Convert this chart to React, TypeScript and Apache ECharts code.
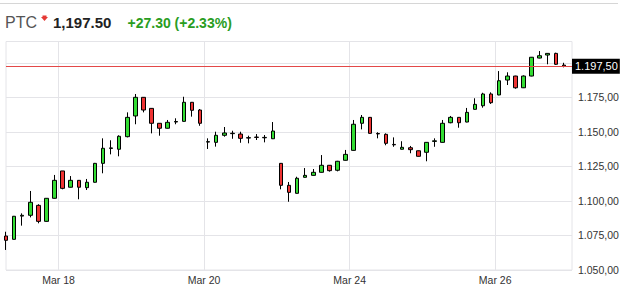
import React, { useEffect, useRef } from 'react';
import * as echarts from 'echarts';

// ---- header values ----
const symbol = 'PTC';
const lastPrice = 1197.5;
const change = 27.3;
const changePct = 2.33;

// ---- x axis: day labels and bar index where each labelled day starts ----
const dayLabels = ['Mar 18', 'Mar 20', 'Mar 24', 'Mar 26'];
const dayStartIndex = [7, 25, 43, 61];

// ---- y axis ----
const yMin = 1050;
const yMax = 1215.4;
const yStep = 25;

// ---- bars (intraday candles) ----
const opens = [
  1074.6, 1072.2, 1089.0, 1089.6, 1096.8, 1085.2, 1101.9,
  1121.7, 1109.9, 1114.9, 1109.6, 1113.5, 1127.2, 1138.0, 1137.4, 1146.5,
  1161.5, 1175.0, 1167.0, 1156.2, 1152.6, 1157.1, 1157.6, 1171.4, 1165.8,
  1142.6, 1142.4, 1147.5, 1148.7, 1148.4, 1145.5, 1146.2, 1145.7, 1145.0,
  1127.2, 1111.3, 1105.5, 1117.1, 1118.5, 1120.7, 1125.8, 1122.2, 1129.4,
  1136.6, 1156.2, 1160.5, 1148.8, 1148.2, 1140.9, 1137.4, 1138.5, 1136.3,
  1135.2, 1143.1, 1142.4, 1156.6, 1160.5, 1157.1, 1166.3, 1168.9, 1177.4,
  1176.7, 1187.5, 1190.4, 1181.9, 1190.4, 1203.4, 1205.6, 1206.8, 1198.3,
];
const closes = [
  1071.5, 1088.9, 1089.6, 1099.0, 1085.2, 1101.9, 1114.9,
  1109.1, 1114.9, 1109.9, 1113.5, 1127.2, 1138.1, 1138.4, 1146.8, 1160.5,
  1175.0, 1165.8, 1156.2, 1152.6, 1156.9, 1157.5, 1171.4, 1165.6, 1156.2,
  1142.9, 1147.5, 1149.2, 1149.0, 1145.3, 1145.8, 1146.0, 1146.0, 1150.6,
  1111.3, 1106.2, 1116.4, 1118.5, 1120.7, 1125.8, 1121.9, 1128.7, 1133.7,
  1155.5, 1160.5, 1148.9, 1148.5, 1141.7, 1140.6, 1138.8, 1137.1, 1132.3,
  1142.4, 1143.5, 1156.2, 1160.5, 1156.6, 1164.1, 1169.9, 1177.4, 1171.1,
  1187.0, 1190.4, 1181.9, 1190.4, 1204.0, 1205.1, 1206.8, 1198.9, 1197.5,
];
const lows = [
  1064.5, 1072.1, 1082.1, 1088.1, 1083.8, 1085.0, 1101.7,
  1108.4, 1109.7, 1101.2, 1107.9, 1113.3, 1120.0, 1133.7, 1132.3, 1146.0,
  1155.5, 1164.1, 1148.9, 1147.2, 1152.4, 1155.5, 1157.4, 1161.0, 1154.4,
  1137.6, 1139.3, 1146.5, 1145.0, 1142.1, 1141.7, 1144.1, 1142.4, 1144.8,
  1108.4, 1099.4, 1105.3, 1116.9, 1118.3, 1120.5, 1121.2, 1121.4, 1129.2,
  1136.4, 1151.8, 1148.7, 1145.3, 1140.3, 1139.2, 1137.2, 1134.5, 1132.1,
  1128.7, 1139.2, 1142.2, 1156.2, 1153.0, 1156.9, 1166.1, 1167.5, 1170.2,
  1176.5, 1183.9, 1181.2, 1181.7, 1190.2, 1203.2, 1198.9, 1198.4, 1196.7,
];
const highs = [
  1077.7, 1089.1, 1091.0, 1107.2, 1097.6, 1102.1, 1118.8,
  1121.7, 1118.0, 1115.1, 1115.9, 1127.5, 1145.3, 1143.9, 1147.5, 1164.1,
  1177.4, 1175.2, 1167.2, 1156.4, 1158.6, 1159.8, 1175.4, 1171.6, 1166.5,
  1145.3, 1150.1, 1153.5, 1150.8, 1150.1, 1147.2, 1148.4, 1147.7, 1157.1,
  1127.4, 1113.7, 1117.5, 1123.8, 1123.1, 1133.2, 1126.0, 1129.0, 1136.9,
  1158.6, 1162.2, 1160.7, 1149.7, 1148.9, 1146.0, 1143.2, 1139.8, 1136.5,
  1142.6, 1145.3, 1158.6, 1161.5, 1160.7, 1167.3, 1174.3, 1178.3, 1178.6,
  1194.0, 1193.1, 1190.6, 1190.9, 1204.2, 1208.5, 1207.0, 1207.3, 1200.0,
];

const FONT = "Arial, 'Liberation Sans', sans-serif";

function fmtEU(v: number): string {
  const [i, d] = v.toFixed(2).split('.');
  return i.replace(/\B(?=(\d{3})+(?!\d))/g, '.') + ',' + d;
}

export default function App() {
  const ref = useRef<HTMLDivElement>(null);

  useEffect(() => {
    if (!ref.current) return;
    const chart = echarts.init(ref.current, null, { renderer: 'svg' });

    // one slot per bar plus one trailing empty slot at the right edge
    const slotCount = opens.length + 1;
    const slots = Array.from({ length: slotCount }, (_, i) => `bar${i}`);
    // half-slot helper axis so day boundaries (between bars) get grid lines and labels
    const halfCount = (slotCount - 1) * 2 + 1;
    const halfLabels = Array.from({ length: halfCount }, () => '');
    dayStartIndex.forEach((s, k) => {
      halfLabels[2 * s - 1] = dayLabels[k];
    });

    const candles = opens.map((o, i) => [o, closes[i], lows[i], highs[i]]);

    const priceStr = lastPrice.toLocaleString('en-US', { minimumFractionDigits: 2, maximumFractionDigits: 2 });
    const changeStr = `+${change.toFixed(2)} (+${changePct.toFixed(2)}%)`;

    chart.setOption({
      animation: false,
      backgroundColor: '#ffffff',
      grid: {
        left: 6,
        right: 51,
        top: 41.5,
        bottom: 24,
        show: true,
        borderColor: '#e4e4e8',
        borderWidth: 1,
        containLabel: false,
        outerBoundsMode: 'none',
      },
      xAxis: [
        {
          type: 'category',
          data: slots,
          boundaryGap: false,
          show: false,
        },
        {
          type: 'category',
          data: halfLabels,
          boundaryGap: false,
          position: 'bottom',
          axisLine: { show: false },
          axisTick: { show: false },
          axisLabel: {
            interval: (i: number) => halfLabels[i] !== '',
            color: '#333',
            fontSize: 10.5,
            fontFamily: FONT,
            margin: 4,
          },
          splitLine: {
            show: true,
            interval: (i: number) => halfLabels[i] !== '',
            lineStyle: { color: '#e4e4e8', width: 1 },
          },
        },
      ],
      yAxis: {
        type: 'value',
        position: 'right',
        min: yMin,
        max: yMax,
        interval: yStep,
        axisLine: { show: false },
        axisTick: { show: false },
        splitLine: { show: true, lineStyle: { color: '#e4e4e8', width: 1 } },
        axisLabel: {
          showMaxLabel: false,
          color: '#333',
          fontSize: 10.5,
          fontFamily: FONT,
          margin: 6,
          formatter: (v: number) => (v > lastPrice - 10 ? '' : fmtEU(v)),
        },
      },
      series: [
        {
          type: 'candlestick',
          xAxisIndex: 0,
          yAxisIndex: 0,
          data: candles,
          barWidth: 4,
          itemStyle: {
            color: '#33dd33',
            color0: '#ee3333',
            borderColor: '#000000',
            borderColor0: '#000000',
            borderColorDoji: '#000000',
            borderWidth: 1,
          },
          markLine: {
            silent: true,
            symbol: ['none', 'none'],
            lineStyle: { color: '#e34848', width: 1, type: 'solid' },
            label: {
              show: true,
              position: 'end',
              distance: 0,
              formatter: () => fmtEU(lastPrice),
              color: '#ffffff',
              backgroundColor: '#000000',
              fontSize: 11,
              fontFamily: FONT,
              padding: [2, 2, 2, 3],
            },
            data: [{ yAxis: lastPrice }],
          },
        },
      ],
      graphic: [
        {
          type: 'line',
          shape: { x1: 0, y1: 3.5, x2: 618, y2: 3.5 },
          style: { stroke: '#d6d6d6', lineWidth: 1 },
        },
        {
          type: 'text',
          x: 5,
          y: 22.5,
          style: { text: symbol, fill: '#555555', font: `16px ${FONT}`, verticalAlign: 'middle', textVerticalAlign: 'middle' },
        },
        {
          type: 'polygon',
          shape: {
            points: [
              [42.5, 15.5], [46.5, 15.5], [46.5, 17], [48, 17], [44.5, 21], [41, 17], [42.5, 17],
            ],
          },
          style: { fill: '#e53935' },
        },
        {
          type: 'text',
          x: 53,
          y: 22.5,
          style: { text: priceStr, fill: '#222222', font: `bold 15px ${FONT}`, verticalAlign: 'middle', textVerticalAlign: 'middle' },
        },
        {
          type: 'text',
          x: 127.5,
          y: 22.5,
          style: { text: changeStr, fill: '#2a9d1f', font: `bold 14px ${FONT}`, verticalAlign: 'middle', textVerticalAlign: 'middle' },
        },
      ],
    });

    return () => chart.dispose();
  }, []);

  return (
    <div
      ref={ref}
      style={{ position: 'fixed', left: 0, top: 0, width: 623, height: 294, background: '#fff' }}
    />
  );
}
